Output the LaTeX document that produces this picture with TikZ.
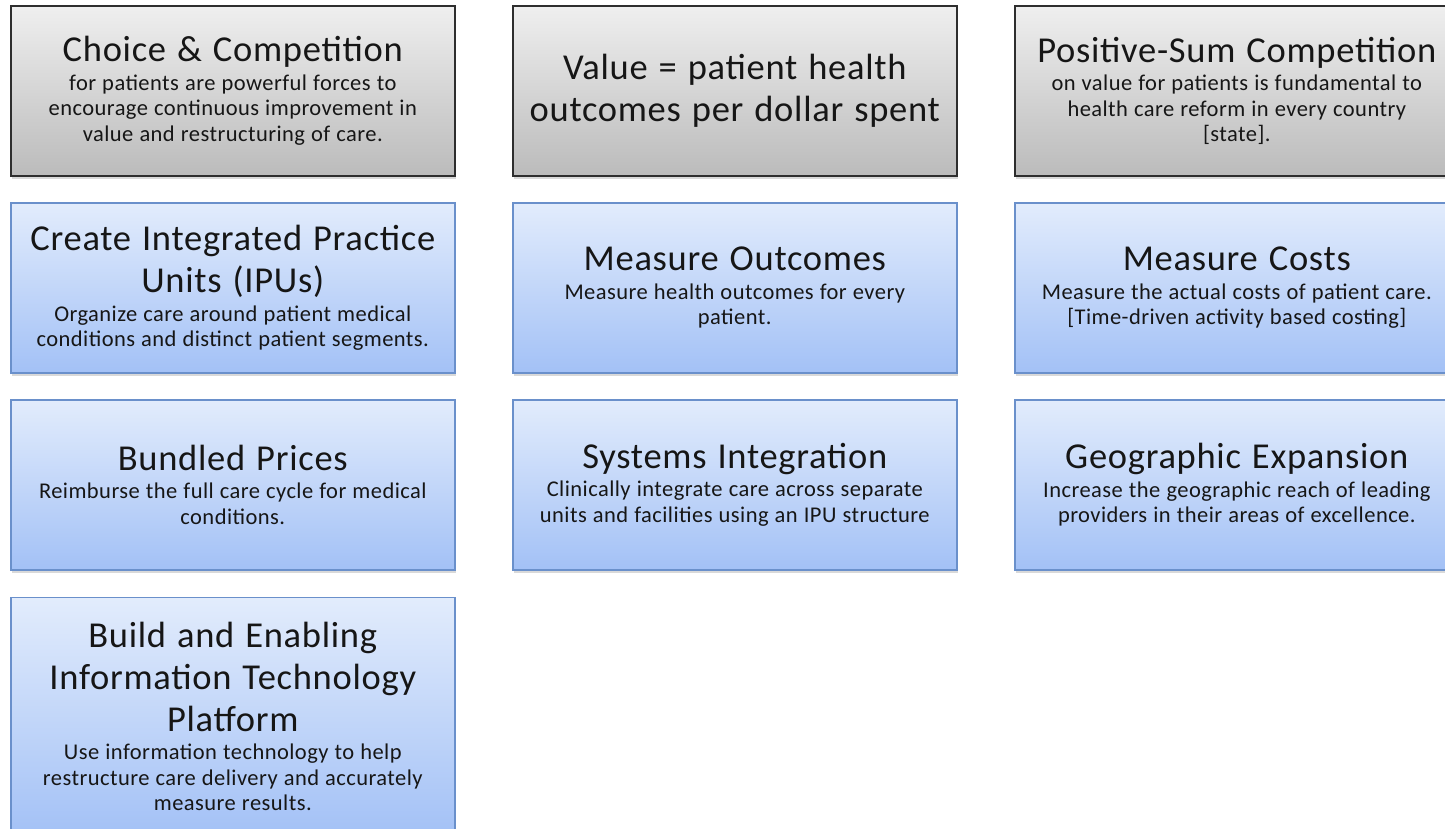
\documentclass[tikz,border=0pt]{standalone}
\usepackage{fontspec}
\setmainfont{Carlito}[LetterSpace=2]
\usepackage{xcolor}
\definecolor{PanelGreyTop}{HTML}{EFEFEF}
\definecolor{PanelGreyBot}{HTML}{BBBBBB}
\definecolor{PanelGreyLine}{HTML}{2E2E2E}
\definecolor{PanelBlueTop}{HTML}{E2ECFC}
\definecolor{PanelBlueBot}{HTML}{A3C1F6}
\definecolor{PanelBlueLine}{HTML}{6A90CB}
\definecolor{InkText}{HTML}{161616}
\usepackage{tikz}
\usetikzlibrary{
  positioning,
  shadows
}

% heading and body text of a panel
\newcommand{\boxtitle}[1]{{\fontsize{36.5}{42}\selectfont\spaceskip=0.3em\relax #1\par}}
\newcommand{\boxbody}[1]{{\fontsize{22.5}{25.5}\selectfont\spaceskip=0.27em\relax\vspace{3pt}#1\par}}

\begin{document}
\begin{tikzpicture}[
      x=1pt, y=1pt,
      node distance=25.4pt and 56.4pt,
      panel/.style={rectangle, align=center, text width=436pt, inner sep=4pt, minimum width=444pt, minimum height=170pt, text=InkText, line width=1.6pt, drop shadow={shadow xshift=1.5pt, shadow yshift=-3pt, opacity=0.3}},
      greybox/.style={panel, draw=PanelGreyLine, top color=PanelGreyTop, bottom color=PanelGreyBot},
      bluebox/.style={panel, draw=PanelBlueLine, top color=PanelBlueTop, bottom color=PanelBlueBot}
    ]
    \useasboundingbox (0,0) rectangle (1445,-828);
    \clip (0,0) rectangle (1445,-828);
    % top row: principles
    \node[greybox, anchor=north west] (choice) at (10,-5) {\boxtitle{Choice \& Competition}\boxbody{for patients are powerful forces to\\ encourage continuous improvement in\\ value and restructuring of care.}};
    \node[greybox, right=of choice] (value) {\boxtitle{Value = patient health\\ outcomes per dollar spent}};
    \node[greybox, right=of value] (possum) {\boxtitle{Positive-Sum Competition}\boxbody{on value for patients is fundamental to\\ health care reform in every country\\ {[state].}}};
    % agenda items
    \node[bluebox, below=of choice] (ipu) {\boxtitle{Create Integrated Practice\\ Units (IPUs)}\boxbody{Organize care around patient medical\\ conditions and distinct patient segments.}};
    \node[bluebox, right=of ipu] (outcomes) {\boxtitle{Measure Outcomes}\boxbody{Measure health outcomes for every\\ patient.}};
    \node[bluebox, right=of outcomes] (costs) {\boxtitle{Measure Costs}\boxbody{Measure the actual costs of patient care.\\ {[Time-driven activity based costing]}}};
    \node[bluebox, below=of ipu] (bundled) {\boxtitle{Bundled Prices}\boxbody{Reimburse the full care cycle for medical\\ conditions.}};
    \node[bluebox, right=of bundled] (sysint) {\boxtitle{Systems Integration}\boxbody{Clinically integrate care across separate\\ units and facilities using an IPU structure}};
    \node[bluebox, right=of sysint] (geo) {\boxtitle{Geographic Expansion}\boxbody{Increase the geographic reach of leading\\ providers in their areas of excellence.}};
    \node[bluebox, below=26pt of bundled, minimum height=238pt] (itplat) {\boxtitle{Build and Enabling\\ Information Technology\\ Platform}\boxbody{Use information technology to help\\ restructure care delivery and accurately\\ measure results.}};
  \end{tikzpicture}
\end{document}
